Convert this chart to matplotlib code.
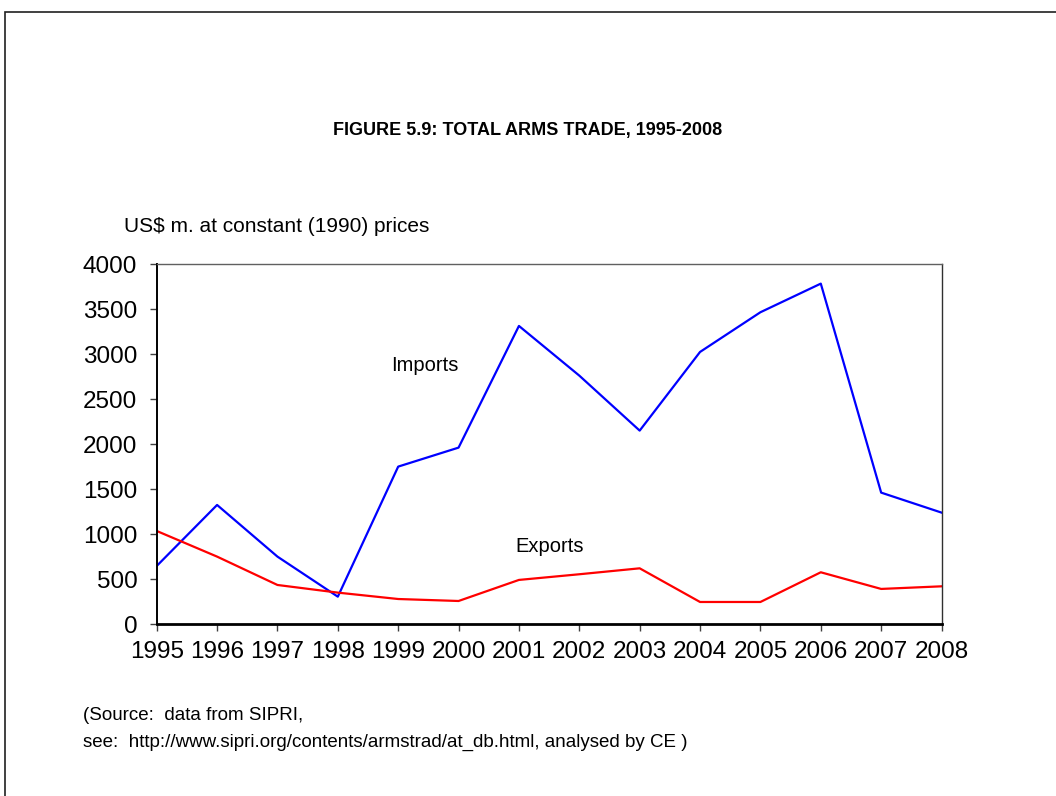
"""
Total arms trade, 1995-2008 (imports vs exports, constant 1990 US$ m.)
Writes out.png
"""

import matplotlib.pyplot as plt
from matplotlib.patches import Rectangle

plt.rcParams['font.family'] = ['Liberation Sans', 'DejaVu Sans']

YEARS   = [1995, 1996, 1997, 1998, 1999, 2000, 2001,
           2002, 2003, 2004, 2005, 2006, 2007, 2008]
IMPORTS = [648, 1326, 752, 307, 1752, 1963, 3315,
           2763, 2152, 3026, 3467, 3785, 1463, 1241]
EXPORTS = [1037, 752, 437, 352, 281, 259, 493,
           556, 622, 248, 248, 578, 393, 422]

TITLE   = 'FIGURE 5.9: TOTAL ARMS TRADE, 1995-2008'
Y_UNITS = 'US$ m. at constant (1990) prices'
SOURCE  = ['(Source:  data from SIPRI,',
           'see:  http://www.sipri.org/contents/armstrad/at_db.html, analysed by CE )']


def main():
    fig = plt.figure(figsize=(10.56, 7.96), dpi=100)
    ax = fig.add_axes([0.1484, 0.2157, 0.7432, 0.4523])

    ax.plot(YEARS, IMPORTS, color='#0000FF', lw=1.6)
    ax.plot(YEARS, EXPORTS, color='#FF0000', lw=1.6)

    ax.text(1999.44, 2875, 'Imports', fontsize=14.5, ha='center', va='center')
    ax.text(2001.51, 860, 'Exports', fontsize=14.5, ha='center', va='center')

    ax.set_xlim(YEARS[0], YEARS[-1])
    ax.set_ylim(0, 4000)
    ax.set_xticks(YEARS)
    ax.set_yticks(range(0, 4001, 500))
    ax.tick_params(axis='both', direction='out', length=5, width=1,
                   color='#404040', labelsize=17.5)
    ax.tick_params(axis='x', pad=7)
    ax.tick_params(axis='y', pad=9)

    # spines: heavy left/bottom, light top/right
    ax.spines['left'].set_linewidth(1.4)
    ax.spines['left'].set_color('black')
    ax.spines['bottom'].set_linewidth(2)
    ax.spines['bottom'].set_color('black')
    ax.spines['top'].set_linewidth(1)
    ax.spines['top'].set_color('#606060')
    ax.spines['right'].set_linewidth(1)
    ax.spines['right'].set_color('#303030')

    fig.text(0.5, 1 - 131 / 796, TITLE, fontsize=13, fontweight='bold',
             ha='center', va='center')
    fig.text(124 / 1056, 1 - 227 / 796, Y_UNITS, fontsize=15,
             ha='left', va='center')
    fig.text(83 / 1056, 1 - 715 / 796, SOURCE[0], fontsize=13.5,
             ha='left', va='center')
    fig.text(83 / 1056, 1 - 742 / 796, SOURCE[1], fontsize=13.5,
             ha='left', va='center')

    # outer frame, runs off the right and bottom edges
    frame_top = 1 - 12 / 796
    fig.patches.append(Rectangle((4.5 / 1056, -0.5), 2.0, frame_top + 0.5,
                                 transform=fig.transFigure, fill=False,
                                 edgecolor='#202020', lw=1.2))

    fig.savefig('out.png', dpi=100)


if __name__ == '__main__':
    main()
